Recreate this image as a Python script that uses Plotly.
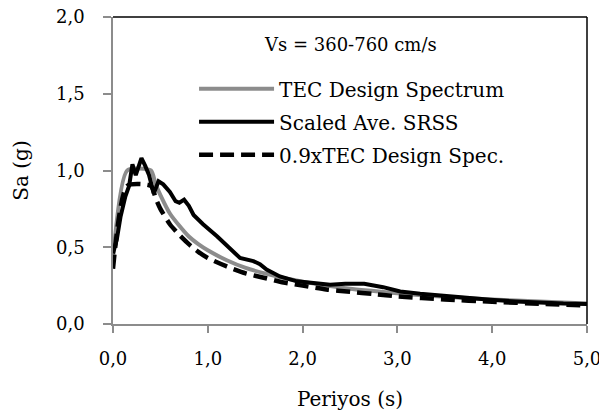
import plotly.graph_objects as go

# TEC design spectrum
T_tec = [0, 0.15, 0.4, 0.45, 0.5, 0.6, 0.7, 0.8, 0.9, 1.0, 1.2, 1.4, 1.6, 1.8, 2.0,
         2.25, 2.5, 2.75, 3.0, 3.5, 4.0, 4.5, 5.0]
Sa_tec = [0.42, 1.00, 1.00, 0.91, 0.84, 0.72, 0.64, 0.57, 0.52, 0.48, 0.415, 0.365,
          0.33, 0.30, 0.276, 0.25, 0.23, 0.215, 0.20, 0.177, 0.16, 0.146, 0.134]

# 0.9 x TEC design spectrum
Sa_tec09 = [0.36, 0.90, 0.90, 0.82, 0.75, 0.65, 0.58, 0.52, 0.47, 0.43, 0.375, 0.33,
            0.30, 0.27, 0.25, 0.225, 0.21, 0.195, 0.18, 0.16, 0.145, 0.132, 0.121]

# Scaled average SRSS
T_srss = [0, 0.04, 0.08, 0.13, 0.17, 0.205, 0.24, 0.27, 0.30, 0.34, 0.38, 0.43, 0.48,
          0.53, 0.6, 0.66, 0.70, 0.75, 0.8, 0.85, 0.95, 1.1, 1.24, 1.34, 1.48, 1.55,
          1.62, 1.76, 1.94, 2.08, 2.29, 2.45, 2.55, 2.65, 2.85, 3.03, 3.24, 3.45, 3.7,
          3.98, 4.25, 4.51, 4.75, 5.0]
Sa_srss = [0.46, 0.55, 0.70, 0.83, 0.90, 1.04, 0.97, 1.03, 1.08, 1.03, 0.97, 0.85, 0.93,
           0.91, 0.86, 0.80, 0.79, 0.81, 0.77, 0.71, 0.65, 0.57, 0.485, 0.43, 0.41, 0.39,
           0.355, 0.31, 0.278, 0.267, 0.256, 0.262, 0.265, 0.262, 0.24, 0.212, 0.197,
           0.185, 0.17, 0.158, 0.147, 0.137, 0.133, 0.13]

FONT = "DejaVu Serif"

fig = go.Figure()
fig.add_trace(go.Scatter(x=T_tec, y=Sa_tec, mode="lines", name="TEC Design Spectrum",
                         line=dict(color="#8c8c8c", width=4, shape="spline", smoothing=0.6),
                         legendgroup="a"))
fig.add_trace(go.Scatter(x=T_srss, y=Sa_srss, mode="lines", name="Scaled Ave. SRSS",
                         line=dict(color="#000000", width=4), legendgroup="b"))
fig.add_trace(go.Scatter(x=T_tec, y=Sa_tec09, mode="lines", name="0.9xTEC Design Spec.",
                         line=dict(color="#000000", width=4.5, dash="14px,7px",
                                   shape="spline", smoothing=0.6),
                         legendgroup="c"))

fig.update_layout(
    width=599, height=413,
    margin=dict(l=113, r=12, t=17, b=89, autoexpand=False),
    paper_bgcolor="white", plot_bgcolor="white",
    font=dict(family=FONT, size=17, color="#000"),
    separators=",.",
    showlegend=True,
    legend=dict(x=0.171, y=0.83, xanchor="left", yanchor="top",
                bgcolor="rgba(0,0,0,0)", itemwidth=75, tracegroupgap=4,
                font=dict(family=FONT, size=20)),
    xaxis=dict(range=[0, 5], dtick=1, tickformat=".1f", showgrid=False, zeroline=False,
               showline=True, linecolor="#8c8c8c", linewidth=1.5,
               ticks="outside", ticklen=7, tickcolor="#8c8c8c", tickwidth=1.5,
               ticklabelstandoff=11, ticklabeloverflow="allow", automargin=False,
               tickfont=dict(family=FONT, size=18),
               title=dict(text="Periyos (s)", standoff=24)),
    yaxis=dict(range=[0, 2], dtick=0.5, tickformat=".1f", showgrid=False, zeroline=False,
               showline=True, linecolor="#8c8c8c", linewidth=1.5,
               ticks="outside", ticklen=8, tickcolor="#8c8c8c", tickwidth=1.5,
               ticklabelstandoff=15, automargin=False,
               tickfont=dict(family=FONT, size=18),
               title=dict(text="Sa (g)", standoff=22)),
    annotations=[dict(text="Vs = 360-760 cm/s", x=0.5, y=0.91, xref="paper", yref="paper",
                      showarrow=False, xanchor="center", yanchor="middle",
                      font=dict(family=FONT, size=18))],
    shapes=[
        dict(type="line", xref="paper", yref="paper", x0=0, x1=1, y0=1, y1=1,
             line=dict(color="#000", width=1.5)),
        dict(type="line", xref="paper", yref="paper", x0=1, x1=1, y0=0, y1=1,
             line=dict(color="#000", width=1.5)),
    ],
)

fig.write_html("out.html")
